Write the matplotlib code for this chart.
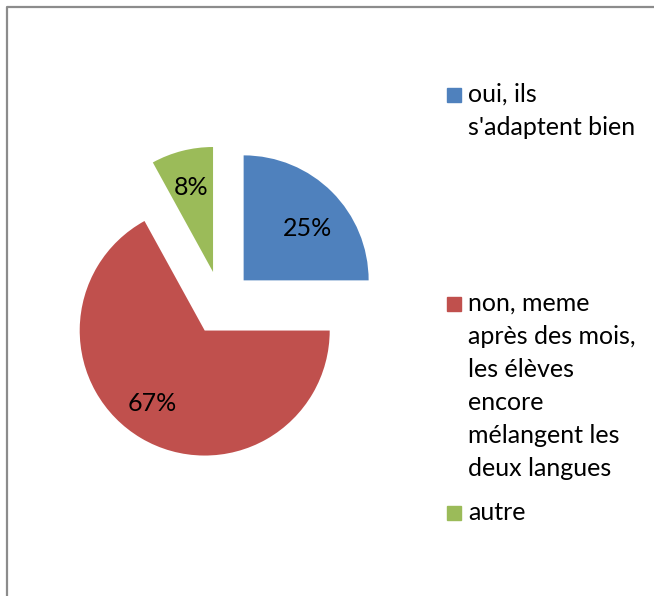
import matplotlib.pyplot as plt
from matplotlib.patches import Rectangle

labels = ["oui, ils\ns'adaptent bien",
          "non, meme\naprès des mois,\nles élèves\nencore\nmélangent les\ndeux langues",
          "autre"]
values = [25, 67, 8]
colors = ["#4F81BD", "#C0504D", "#9BBB59"]

plt.rcParams["font.family"] = ["Lato", "DejaVu Sans"]

W, H = 654, 596
fig = plt.figure(figsize=(W / 100, H / 100), dpi=100)
ax = fig.add_axes([0, 0, 1, 1])

# --- camembert (explode en unites de donnees = pixels ici) ---
wedges, texts, autotexts = ax.pie(
    values, colors=colors, startangle=90, counterclock=False,
    explode=[32] * len(values), radius=125, center=(221, H - 303),
    autopct=lambda p: f"{p:.0f}%", pctdistance=0.7, frame=True,
    textprops={"fontsize": 18, "color": "black"},
)
# petits decalages des etiquettes comme dans l'original
nudges = [(2, -10), (-8, 2), (0, 0)]
for t, (dx, dy) in zip(autotexts, nudges):
    x, y = t.get_position()
    t.set_position((x + dx, y + dy))

ax.set_xlim(0, W)
ax.set_ylim(0, H)
ax.set_aspect("equal")
ax.axis("off")

# --- legende (a la main, comme Excel) ---
legend_y = [95, 304, 513]  # centre de la premiere ligne, en pixels
for lab, col, y in zip(labels, colors, legend_y):
    ax.add_patch(Rectangle((447, H - y - 7), 14, 14, color=col))
    ax.text(468, H - y + 12, lab, fontsize=18, va="top", ha="left",
            linespacing=1.53)

# --- cadre ---
ax.plot([6.5, 6.5, W + 5], [-5, H - 6.5, H - 6.5], color="#8c8c8c", lw=1.6,
        clip_on=False)

fig.savefig("out.png", dpi=100)
